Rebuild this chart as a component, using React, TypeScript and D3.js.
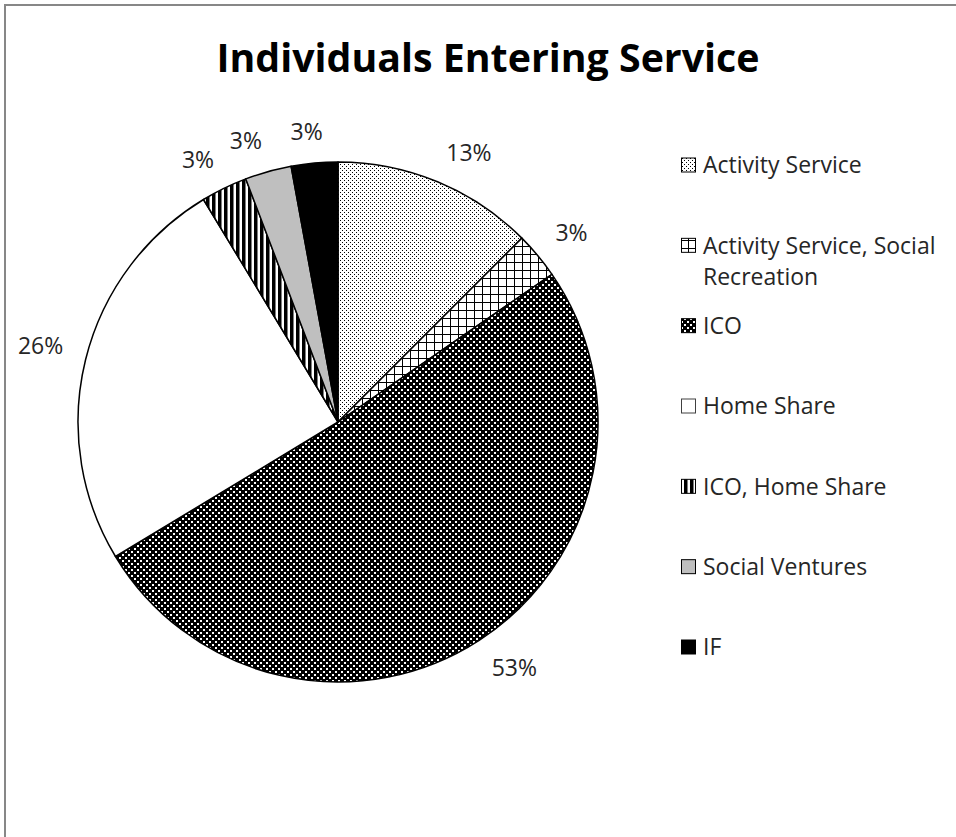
import React from 'react';
import * as d3 from 'd3';

const categories = [
  'Activity Service',
  'Activity Service, Social Recreation',
  'ICO',
  'Home Share',
  'ICO, Home Share',
  'Social Ventures',
  'IF',
];
const legendLines = [
  ['Activity Service'],
  ['Activity Service, Social', 'Recreation'],
  ['ICO'],
  ['Home Share'],
  ['ICO, Home Share'],
  ['Social Ventures'],
  ['IF'],
];
const percentValues = [13, 3, 53, 26, 3, 3, 3];
const labelTexts = percentValues.map((v) => `${v}%`);
const sliceFills = [
  'url(#pDots)',
  'url(#pGrid)',
  'url(#pDark)',
  '#ffffff',
  'url(#pStripes)',
  '#bfbfbf',
  '#000000',
];
const title = 'Individuals Entering Service';

const W = 956;
const H = 837;
const CX = 338;
const CY = 422;
const R = 260;
const LABEL_FONT = 23;
const FONT = '"Open Sans", "Noto Sans", sans-serif';

function measure(text: string, size: number) {
  try {
    const c = document.createElement('canvas').getContext('2d');
    if (c) {
      c.font = `${size}px "Open Sans"`;
      return c.measureText(text).width;
    }
  } catch (e) {}
  return text.length * size * 0.6;
}

export default function App() {
  const pie = d3.pie<number>().sort(null).value((d) => d);
  const arcs = pie(percentValues);
  const arc = d3.arc<d3.PieArcDatum<number>>().innerRadius(0).outerRadius(R);

  const legendY = d3
    .scalePoint<number>()
    .domain(d3.range(categories.length))
    .range([165, 647]);

  const capH = LABEL_FONT * 0.714;
  const labelR = R + 23;

  return (
    <svg
      width={W}
      height={H}
      style={{ position: 'absolute', left: 0, top: 0, background: '#fff' }}
      fontFamily={FONT}
    >
      <defs>
        <pattern id="pDots" width={4} height={4} patternUnits="userSpaceOnUse">
          <rect width={4} height={4} fill="#fff" />
          <rect x={0} y={0} width={1} height={1} fill="#000" />
          <rect x={2} y={2} width={1} height={1} fill="#000" />
        </pattern>
        <pattern id="pGrid" width={8} height={8} patternUnits="userSpaceOnUse">
          <rect width={8} height={8} fill="#fff" />
          <rect x={0} y={0} width={8} height={1} fill="#000" />
          <rect x={0} y={0} width={1} height={8} fill="#000" />
        </pattern>
        <pattern id="pDark" width={6} height={6} patternUnits="userSpaceOnUse">
          <rect width={6} height={6} fill="#000" />
          <rect x={0} y={0} width={2} height={2} fill="#fff" />
          <rect x={3} y={3} width={2} height={2} fill="#fff" />
        </pattern>
        <pattern id="pStripes" width={6} height={6} patternUnits="userSpaceOnUse">
          <rect width={6} height={6} fill="#fff" />
          <rect x={0} y={0} width={3.5} height={6} fill="#000" />
        </pattern>
      </defs>

      <rect x={5} y={5} width={2000} height={2000} fill="#fff" stroke="#878787" strokeWidth={2} />

      <text
        x={488}
        y={72}
        textAnchor="middle"
        fontWeight="bold"
        fontSize={40}
        fill="#000"
        textLength={543}
        lengthAdjust="spacingAndGlyphs"
      >
        {title}
      </text>

      <g transform={`translate(${CX},${CY})`}>
        {arcs.map((a, i) => (
          <path
            key={categories[i]}
            d={arc(a) || ''}
            fill={sliceFills[i]}
            stroke="#000"
            strokeWidth={1.5}
            strokeLinejoin="round"
          />
        ))}
        {arcs.map((a, i) => {
          const mid = (a.startAngle + a.endAngle) / 2;
          const s = Math.sin(mid);
          const c = Math.cos(mid);
          const px = labelR * s;
          const py = -labelR * c;
          const w = measure(labelTexts[i], LABEL_FONT);
          const hx = Math.max(-1, Math.min(1, s * 4));
          const hy = c >= 0 ? 1 : -1;
          const cx = px + (w / 2) * hx;
          const cy = py - (capH / 2) * hy;
          return (
            <text
              key={`l${i}`}
              x={cx}
              y={cy + capH / 2}
              textAnchor="middle"
              fontSize={LABEL_FONT}
              fill="#262626"
            >
              {labelTexts[i]}
            </text>
          );
        })}
      </g>

      <g>
        {categories.map((cat, i) => {
          const y = legendY(i) as number;
          return (
            <g key={cat}>
              <rect
                x={681.5}
                y={y - 7}
                width={14}
                height={14}
                fill={sliceFills[i]}
                stroke={i === 3 ? '#404040' : '#000'}
                strokeWidth={1}
              />
              {legendLines[i].map((line, j) => (
                <text
                  key={line}
                  x={703}
                  y={y + capH / 2 + j * 31}
                  fontSize={LABEL_FONT}
                  fill="#262626"
                >
                  {line}
                </text>
              ))}
            </g>
          );
        })}
      </g>
    </svg>
  );
}
